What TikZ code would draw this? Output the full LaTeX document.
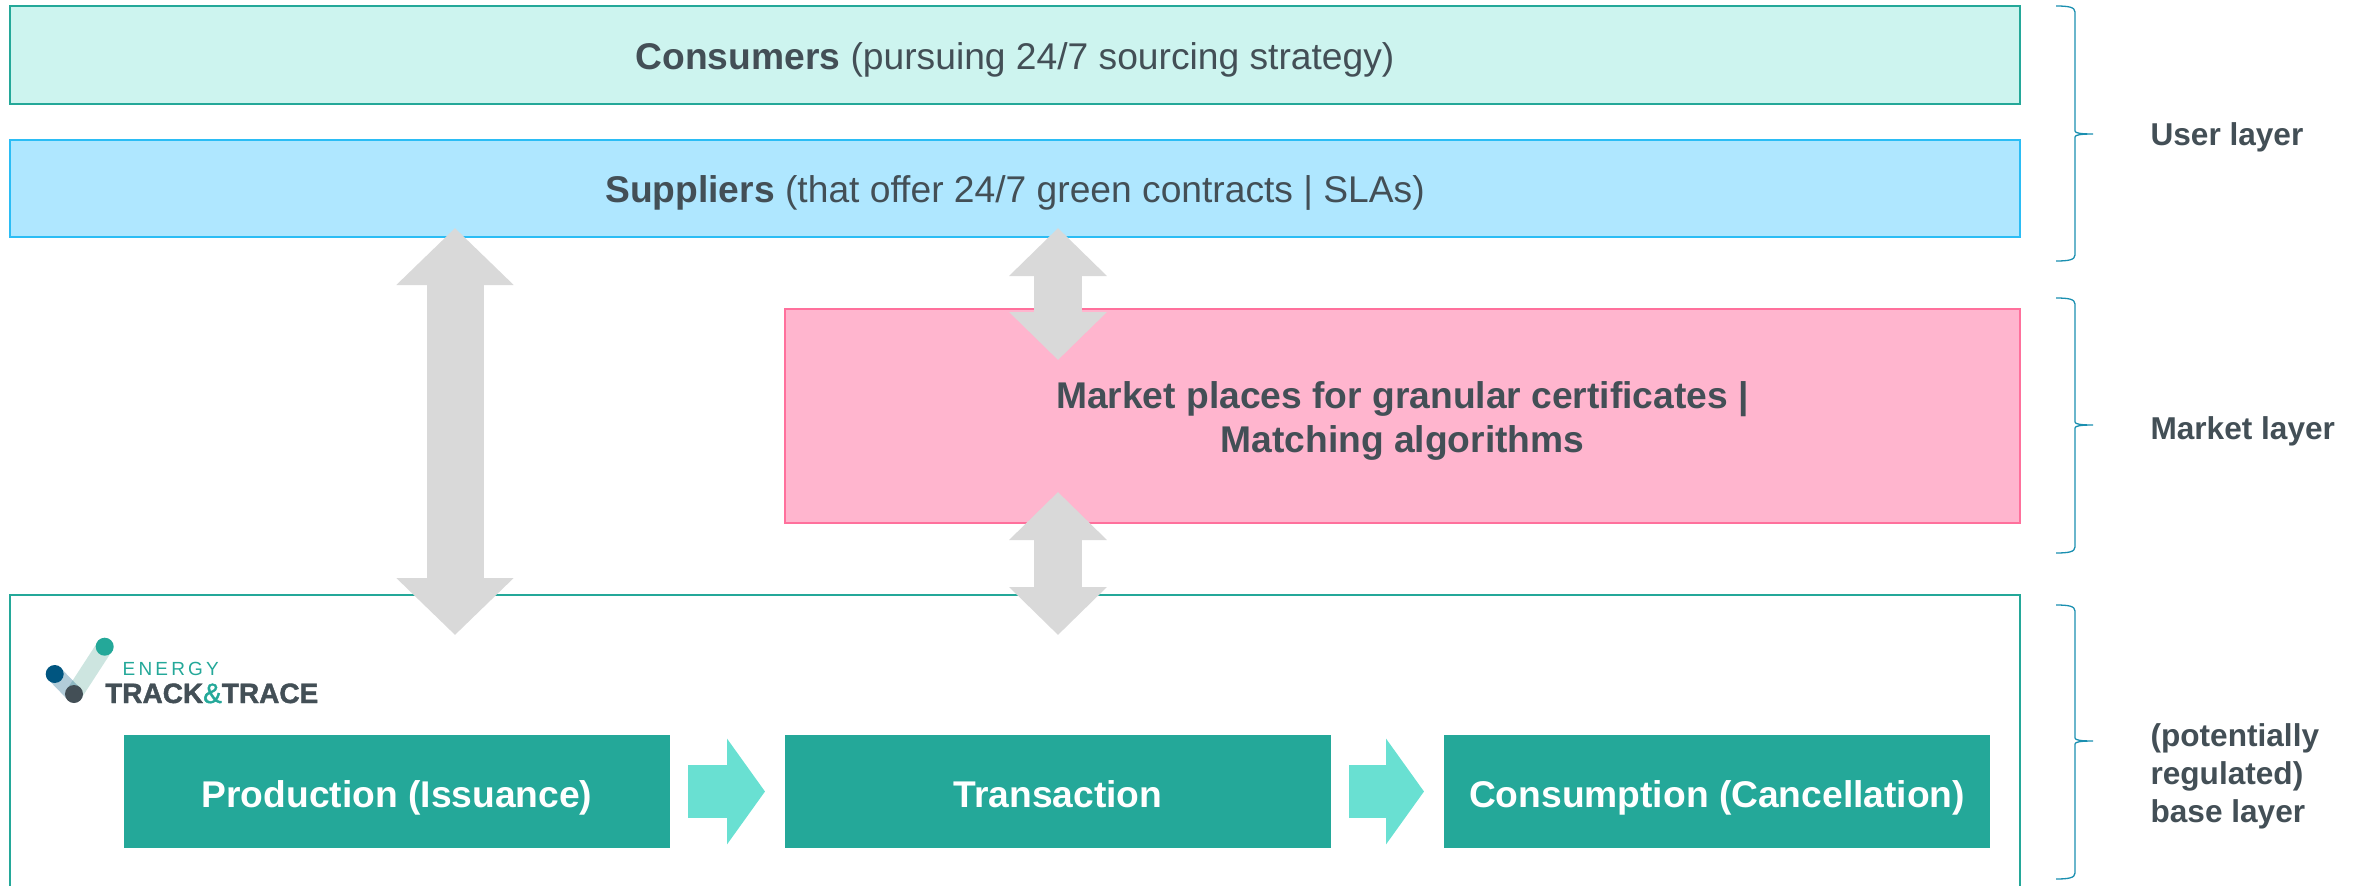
\documentclass[tikz,border=0pt]{standalone}
\usepackage{fontspec}
\setmainfont{Liberation Sans}
\usepackage{tikz}
\usetikzlibrary{
  positioning,
  arrows.meta
}
\definecolor{inkgray}{HTML}{434F56}
\definecolor{tealdark}{HTML}{24A899}
\definecolor{teallight}{HTML}{CDF4EF}
\definecolor{tealarrow}{HTML}{69E0D2}
\definecolor{skyline}{HTML}{2BBDF5}
\definecolor{skyfill}{HTML}{AFE7FF}
\definecolor{pinkline}{HTML}{FF709C}
\definecolor{pinkfill}{HTML}{FFB5CE}
\definecolor{arrowgray}{HTML}{D9D9D9}
\definecolor{braceblue}{HTML}{1A8FB0}
\definecolor{dotblue}{HTML}{005580}
\definecolor{bandteal}{HTML}{CDE5E0}
\tikzset{
  band/.style={draw, line width=1.5pt, inner sep=0pt, outer sep=0pt, anchor=north west, align=center, text=inkgray, text height=28pt, text depth=0pt, font=\fontsize{37.2}{44}\selectfont},
  stage/.style={fill=tealdark, text=white, inner sep=0pt, outer sep=0pt, minimum width=546pt, minimum height=113pt, text height=31pt, text depth=0pt, font=\fontsize{37.2}{44}\selectfont\bfseries},
  flow/.style={line width=53pt, draw=tealarrow, -{Triangle[length=38pt,width=104pt]}, shorten <=18pt, shorten >=20pt},
  updown/.style={draw=arrowgray, {Triangle[length=57pt,width=114pt]}-{Triangle[length=57pt,width=114pt]}, line width=57pt},
  updownsmall/.style={draw=arrowgray, {Triangle[length=48pt,width=95pt]}-{Triangle[length=48pt,width=95pt]}, line width=48pt},
  layerlabel/.style={anchor=west, align=left, text=inkgray, font=\fontsize{31.6}{38}\selectfont\bfseries}
}
\providecommand{\layerbrace}[4]{
  \coordinate (#1a) at (2056,#2);
  \coordinate (#1b) at (2093,#3);
  \coordinate (#1c) at (2056,#4);
  \draw [braceblue, line width=1.3pt]
    (#1a) .. controls (2068,#2) and (2075,#2+1) .. (2075,#2+6)
    -- (2075,#3-3) .. controls (2075,#3-1) and (2080,#3) .. (#1b)
    .. controls (2080,#3) and (2075,#3+1) .. (2075,#3+3)
    -- (2075,#4-6) .. controls (2075,#4-1) and (2068,#4) .. (#1c);
}

\begin{document}
\begin{tikzpicture}[x=1pt,y=-1pt]
    \useasboundingbox (0,0) rectangle (2361,886);
    \node (consumers) [band,fill=teallight,draw=tealdark,minimum width=2010pt,minimum height=98pt] at (10,6) {\textbf{Consumers} (pursuing 24/7 sourcing strategy)};
    \node (suppliers) [band,fill=skyfill,draw=skyline,minimum width=2010pt,minimum height=97pt] at (10,140) {\textbf{Suppliers} (that offer 24/7 green contracts | SLAs)};
    \node (market) [band,fill=pinkfill,draw=pinkline,minimum width=1235pt,minimum height=214pt,text height=72pt] at (785,309) {\textbf{Market places for granular certificates |}\\\textbf{Matching algorithms}};
    \node (base) [band,draw=tealdark,minimum width=2010pt,minimum height=300pt] at (10,595) {};

    % logo
    \coordinate (dotgreen) at (104.7,646.7);
    \coordinate (dotnavy) at (54.7,674);
    \coordinate (dotdark) at (74,694);
    \draw [line width=17pt,line cap=round,bandteal] (dotgreen) -- (dotdark);
    \draw [line width=17pt,line cap=round,dotblue,opacity=.3] (dotnavy) -- (dotdark);
    \fill [tealdark] (dotgreen) circle (9);
    \fill [dotblue] (dotnavy) circle (9);
    \fill [inkgray] (dotdark) circle (9);
    \node (energy) [inner sep=0pt,anchor=base west,text=tealdark,font=\fontsize{19}{19}\selectfont] at (122.5,675) {E\,N\,E\,R\,G\,Y};
    \node (track) [inner sep=0pt,anchor=base west,text=inkgray,font=\fontsize{28}{28}\selectfont\bfseries\addfontfeature{FakeBold=1.5}] at (105,703) {TRACK\textcolor{tealdark}{\textmd{\&}}TRACE};

    \node (production) [stage] at (397,791.5) {Production (Issuance)};
    \node (transaction) [stage,right=115pt of production] {Transaction};
    \node (consumption) [stage,right=113pt of transaction] {Consumption (Cancellation)};
    \draw [flow] (production) -- (transaction);
    \draw [flow] (transaction) -- (consumption);

    \coordinate (leftup) at (455,228);
    \coordinate (leftdown) at (455,635);
    \coordinate (midup) at (1058,228);
    \coordinate (midmarket) at (1058,360);
    \coordinate (midmarketb) at (1058,492);
    \coordinate (middown) at (1058,635);
    \draw [updown] (leftup) -- (leftdown);
    \draw [updownsmall] (midup) -- (midmarket);
    \draw [updownsmall] (midmarketb) -- (middown);

    \layerbrace{user}{6}{134}{261}
    \layerbrace{mark}{298}{425}{553}
    \layerbrace{reg}{605}{741}{879}
    \node (userlabel) [layerlabel] at (2147,137) {User layer};
    \node (marketlabel) [layerlabel] at (2147,431) {Market layer};
    \node (baselabel) [layerlabel] at (2147,776) {(potentially\\regulated)\\base layer};
\end{tikzpicture}
\end{document}
